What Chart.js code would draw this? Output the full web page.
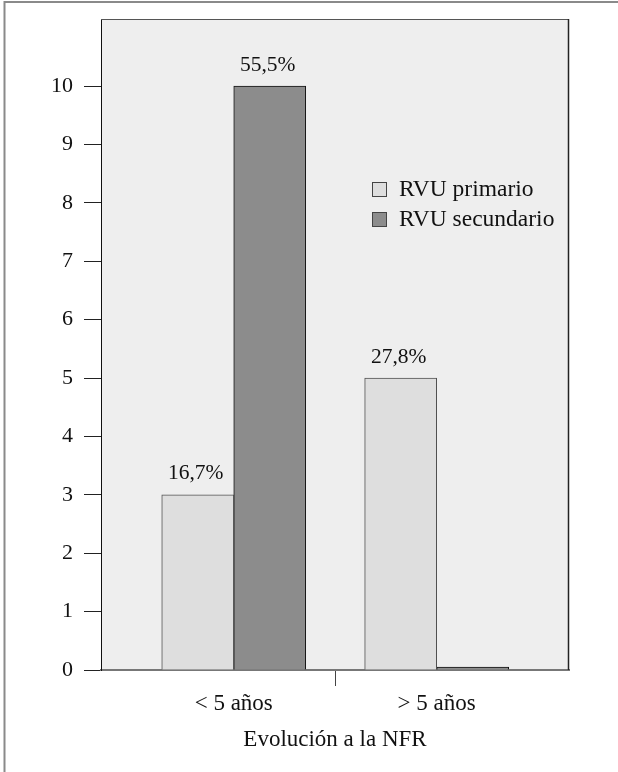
<!DOCTYPE html>
<html>
<head>
<meta charset="utf-8">
<script src="https://cdn.jsdelivr.net/npm/chart.js@4.4.1/dist/chart.umd.min.js"></script>
<style>
  html, body { margin: 0; padding: 0; background: #fff; }
  #wrap { width: 618px; height: 772px; }
</style>
</head>
<body>
<div id="wrap"><canvas id="nfrChart"></canvas></div>
<script>
// Data
const categories = ['< 5 años', '> 5 años'];
const primario = [3, 5];
const secundario = [10, 0];
const primarioPct = ['16,7%', '27,8%'];
const secundarioPct = ['55,5%', ''];
const yTicks = [0, 1, 2, 3, 4, 5, 6, 7, 8, 9, 10];
const yMax = 11.15;
const axisTitle = 'Evolución a la NFR';

Chart.defaults.font.family = "'Liberation Serif', 'Times New Roman', serif";
Chart.defaults.font.size = 22;
Chart.defaults.color = '#111';

// background panel + outer frame
const framePlugin = {
    id: 'framePlugin',
    beforeDraw(chart) {
        const { ctx, chartArea: a } = chart;
        ctx.save();
        ctx.fillStyle = '#fff';
        ctx.fillRect(0, 0, chart.width, chart.height);
        ctx.strokeStyle = '#8a8a8a';
        ctx.lineWidth = 2;
        ctx.beginPath();
        ctx.moveTo(4.5, chart.height);
        ctx.lineTo(4.5, 2);
        ctx.lineTo(chart.width, 2);
        ctx.stroke();
        ctx.fillStyle = '#eeeeee';
        ctx.fillRect(a.left, a.top, a.right - a.left, a.bottom - a.top);
        ctx.restore();
    },
    afterDatasetsDraw(chart) {
        const { ctx, chartArea: a } = chart;
        ctx.save();
        ctx.strokeStyle = '#555';
        ctx.lineWidth = 1;
        ctx.beginPath();
        ctx.moveTo(a.left, a.top + 0.5);
        ctx.lineTo(a.right, a.top + 0.5);
        ctx.stroke();
        ctx.strokeStyle = '#222';
        ctx.lineWidth = 1.5;
        ctx.beginPath();
        ctx.moveTo(a.right - 0.5, a.top);
        ctx.lineTo(a.right - 0.5, a.bottom);
        ctx.stroke();
        ctx.restore();
    }
};

// percentage labels above the bars
const pctPlugin = {
    id: 'pctPlugin',
    afterDatasetsDraw(chart) {
        const { ctx } = chart;
        const pcts = [primarioPct, secundarioPct];
        ctx.save();
        ctx.font = "21.5px 'Liberation Serif', serif";
        ctx.fillStyle = '#111';
        ctx.textAlign = 'center';
        ctx.textBaseline = 'middle';
        chart.data.datasets.forEach(function(ds, di) {
            chart.getDatasetMeta(di).data.forEach(function(bar, i) {
                if (pcts[di][i]) ctx.fillText(pcts[di][i], bar.x - 2, bar.y - 21);
            });
        });
        ctx.restore();
    }
};

// legend inside the panel
const legendPlugin = {
    id: 'legendPlugin',
    afterDraw(chart) {
        const { ctx } = chart;
        ctx.save();
        ctx.font = "23.5px 'Liberation Serif', serif";
        ctx.textBaseline = 'middle';
        chart.data.datasets.forEach(function(ds, i) {
            const y = 182 + i * 30;
            ctx.fillStyle = ds.backgroundColor;
            ctx.fillRect(372, y, 15, 15);
            ctx.strokeStyle = '#444';
            ctx.lineWidth = 1;
            ctx.strokeRect(372.5, y + 0.5, 14, 14);
            ctx.fillStyle = '#111';
            ctx.fillText(ds.label, 399, y + 8);
        });
        ctx.restore();
    }
};

const ctx = document.getElementById('nfrChart').getContext('2d');
new Chart(ctx, {
    type: 'bar',
    data: {
        datasets: [{
            label: 'RVU primario',
            data: primario.map((v, i) => ({ x: i, y: v })),
            backgroundColor: '#dedede',
            borderColor: '#505050',
            borderWidth: 1,
            barThickness: 72
        }, {
            label: 'RVU secundario',
            data: secundario.map((v, i) => ({ x: i, y: v })),
            backgroundColor: '#8c8c8c',
            borderColor: '#111',
            borderWidth: 1,
            barThickness: 72,
            minBarLength: 3
        }]
    },
    options: {
        responsive: true,
        maintainAspectRatio: false,
        animation: false,
        layout: { padding: { top: 19, right: 49, left: 0, bottom: 0 } },
        plugins: {
            legend: { display: false },
            tooltip: { enabled: false }
        },
        scales: {
            x: {
                type: 'linear',
                offset: false,
                min: -0.654,
                max: 1.652,
                afterBuildTicks(scale) {
                    scale.ticks = [{ value: 0 }, { value: 0.5 }, { value: 1 }];
                },
                afterFit(scale) {
                    scale.height = 102;
                    scale.paddingLeft = 0;
                    scale.paddingRight = 0;
                },
                ticks: {
                    padding: 4,
                    color: '#111',
                    font: { size: 23 },
                    callback: function(value) {
                        return Number.isInteger(value) ? categories[value] : '';
                    }
                },
                grid: {
                    offset: false,
                    drawOnChartArea: false,
                    tickLength: 16,
                    color: (c) => (c.tick && c.tick.value === 0.5 ? '#444' : 'rgba(0,0,0,0)')
                },
                border: { color: '#777', width: 2 },
                title: {
                    display: true,
                    text: axisTitle,
                    font: { size: 23 },
                    color: '#111',
                    padding: { top: 0, bottom: 18 }
                }
            },
            y: {
                min: 0,
                max: yMax,
                afterBuildTicks(scale) {
                    scale.ticks = yTicks.map(v => ({ value: v }));
                },
                afterFit(scale) {
                    scale.width = 101;
                    scale.paddingTop = 0;
                    scale.paddingBottom = 0;
                },
                ticks: { padding: 11, color: '#111' },
                grid: {
                    drawOnChartArea: false,
                    tickLength: 17,
                    color: '#222'
                },
                border: { color: '#111', width: 1 }
            }
        }
    },
    plugins: [framePlugin, pctPlugin, legendPlugin]
});
</script>
</body>
</html>
